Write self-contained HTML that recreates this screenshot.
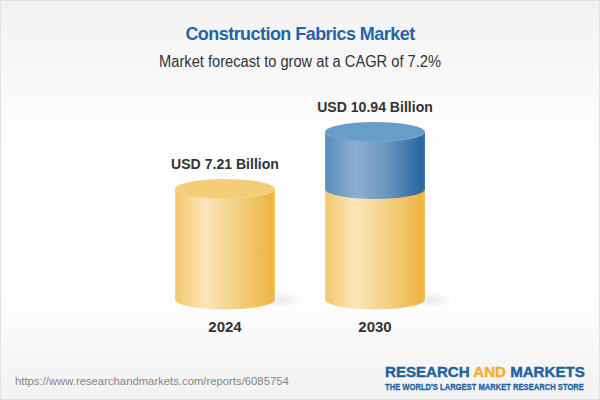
<!DOCTYPE html>
<html>
<head>
<meta charset="utf-8">
<style>
html,body{margin:0;padding:0;}
body{width:600px;height:400px;overflow:hidden;position:relative;font-family:"Liberation Sans",sans-serif;}
#bg{position:absolute;left:0;top:0;width:598px;height:398px;border:1px solid #e2e2e2;
  background:linear-gradient(to bottom,#f2f2f2 0%,#ffffff 38%,#ffffff 72%,#f2f2f2 100%);}
.t{position:absolute;white-space:nowrap;line-height:1;}
#title{left:0;width:600px;text-align:center;top:25px;font-size:18px;font-weight:bold;color:#2266a8;letter-spacing:-0.55px;}
#sub{left:0;width:600px;text-align:center;top:54px;font-size:15.6px;color:#333;transform-origin:300px 0;transform:scaleX(0.94);}
.usd{font-size:14.5px;font-weight:bold;color:#333;text-align:center;width:200px;transform-origin:100px 0;transform:scaleX(0.97);}
.yr{font-size:15.5px;font-weight:bold;color:#333;text-align:center;width:100px;transform-origin:50px 0;transform:scaleX(0.97);}
#url{left:15px;top:375.7px;font-size:11.3px;color:#858585;}
#logo1{left:385px;top:364px;font-size:15.4px;font-weight:bold;color:#1f60a0;-webkit-text-stroke:0.4px #1f60a0;transform-origin:0 0;transform:scaleX(0.98);}
#logo1 span{color:#f3ad2b;-webkit-text-stroke:0.4px #f3ad2b;}
#logo2{left:385px;top:381.5px;font-size:9.5px;font-weight:bold;color:#1f60a0;transform-origin:0 0;transform:scaleX(0.80);-webkit-text-stroke:0.3px #1f60a0;}
svg{position:absolute;left:0;top:0;}
</style>
</head>
<body>
<div id="bg"></div>
<svg width="600" height="400" viewBox="0 0 600 400">
  <defs>
    <linearGradient id="gy" x1="0" x2="1" y1="0" y2="0">
      <stop offset="0" stop-color="#f6d48a"/>
      <stop offset="0.02" stop-color="#f2c96f"/>
      <stop offset="0.3" stop-color="#fbe5b9"/>
      <stop offset="0.6" stop-color="#f4d186"/>
      <stop offset="0.97" stop-color="#efb542"/>
      <stop offset="1" stop-color="#f2c060"/>
    </linearGradient>
    <linearGradient id="gb" x1="0" x2="1" y1="0" y2="0">
      <stop offset="0" stop-color="#73a0c8"/>
      <stop offset="0.02" stop-color="#5b8ebd"/>
      <stop offset="0.3" stop-color="#8db0cf"/>
      <stop offset="0.6" stop-color="#6c98c1"/>
      <stop offset="0.97" stop-color="#2866a1"/>
      <stop offset="1" stop-color="#3d76aa"/>
    </linearGradient>
    <radialGradient id="sh" cx="0.5" cy="0.5" r="0.5">
      <stop offset="0" stop-color="#000" stop-opacity="0.08"/>
      <stop offset="1" stop-color="#000" stop-opacity="0"/>
    </radialGradient>
  </defs>
  <!-- shadows -->
  <ellipse cx="281" cy="300" rx="21" ry="8" fill="url(#sh)"/>
  <ellipse cx="431" cy="300" rx="21" ry="8" fill="url(#sh)"/>
  <!-- left cylinder -->
  <path d="M175 189 L175 299.5 A50 10 0 0 0 275 299.5 L275 189 Z" fill="url(#gy)"/>
  <ellipse cx="225" cy="189" rx="50" ry="10" fill="#f4cd78"/>
  <path d="M175.3 189.5 A50 10 0 0 0 274.7 189.5" fill="none" stroke="#f7d993" stroke-width="0.7"/>
  <!-- right cylinder yellow -->
  <path d="M325 189 L325 299.5 A50 10 0 0 0 425 299.5 L425 189 Z" fill="url(#gy)"/>
  <!-- right cylinder blue -->
  <path d="M325 132 L325 189 A50 10 0 0 0 425 189 L425 132 Z" fill="url(#gb)"/>
  <ellipse cx="375" cy="132" rx="50" ry="10" fill="#6a9cc8"/>
  <path d="M325.3 132.5 A50 10 0 0 0 424.7 132.5" fill="none" stroke="#85acd0" stroke-width="0.7"/>
</svg>
<div class="t" id="title">Construction Fabrics Market</div>
<div class="t" id="sub">Market forecast to grow at a CAGR of 7.2%</div>
<div class="t usd" style="left:275px;top:99.5px;">USD 10.94 Billion</div>
<div class="t usd" style="left:125px;top:156.5px;">USD 7.21 Billion</div>
<div class="t yr" style="left:175px;top:319px;">2024</div>
<div class="t yr" style="left:325px;top:319px;">2030</div>
<div class="t" id="url">https://www.researchandmarkets.com/reports/6085754</div>
<div class="t" id="logo1">RESEARCH <span>AND</span> MARKETS</div>
<div class="t" id="logo2">THE WORLD'S LARGEST MARKET RESEARCH STORE</div>
</body>
</html>
